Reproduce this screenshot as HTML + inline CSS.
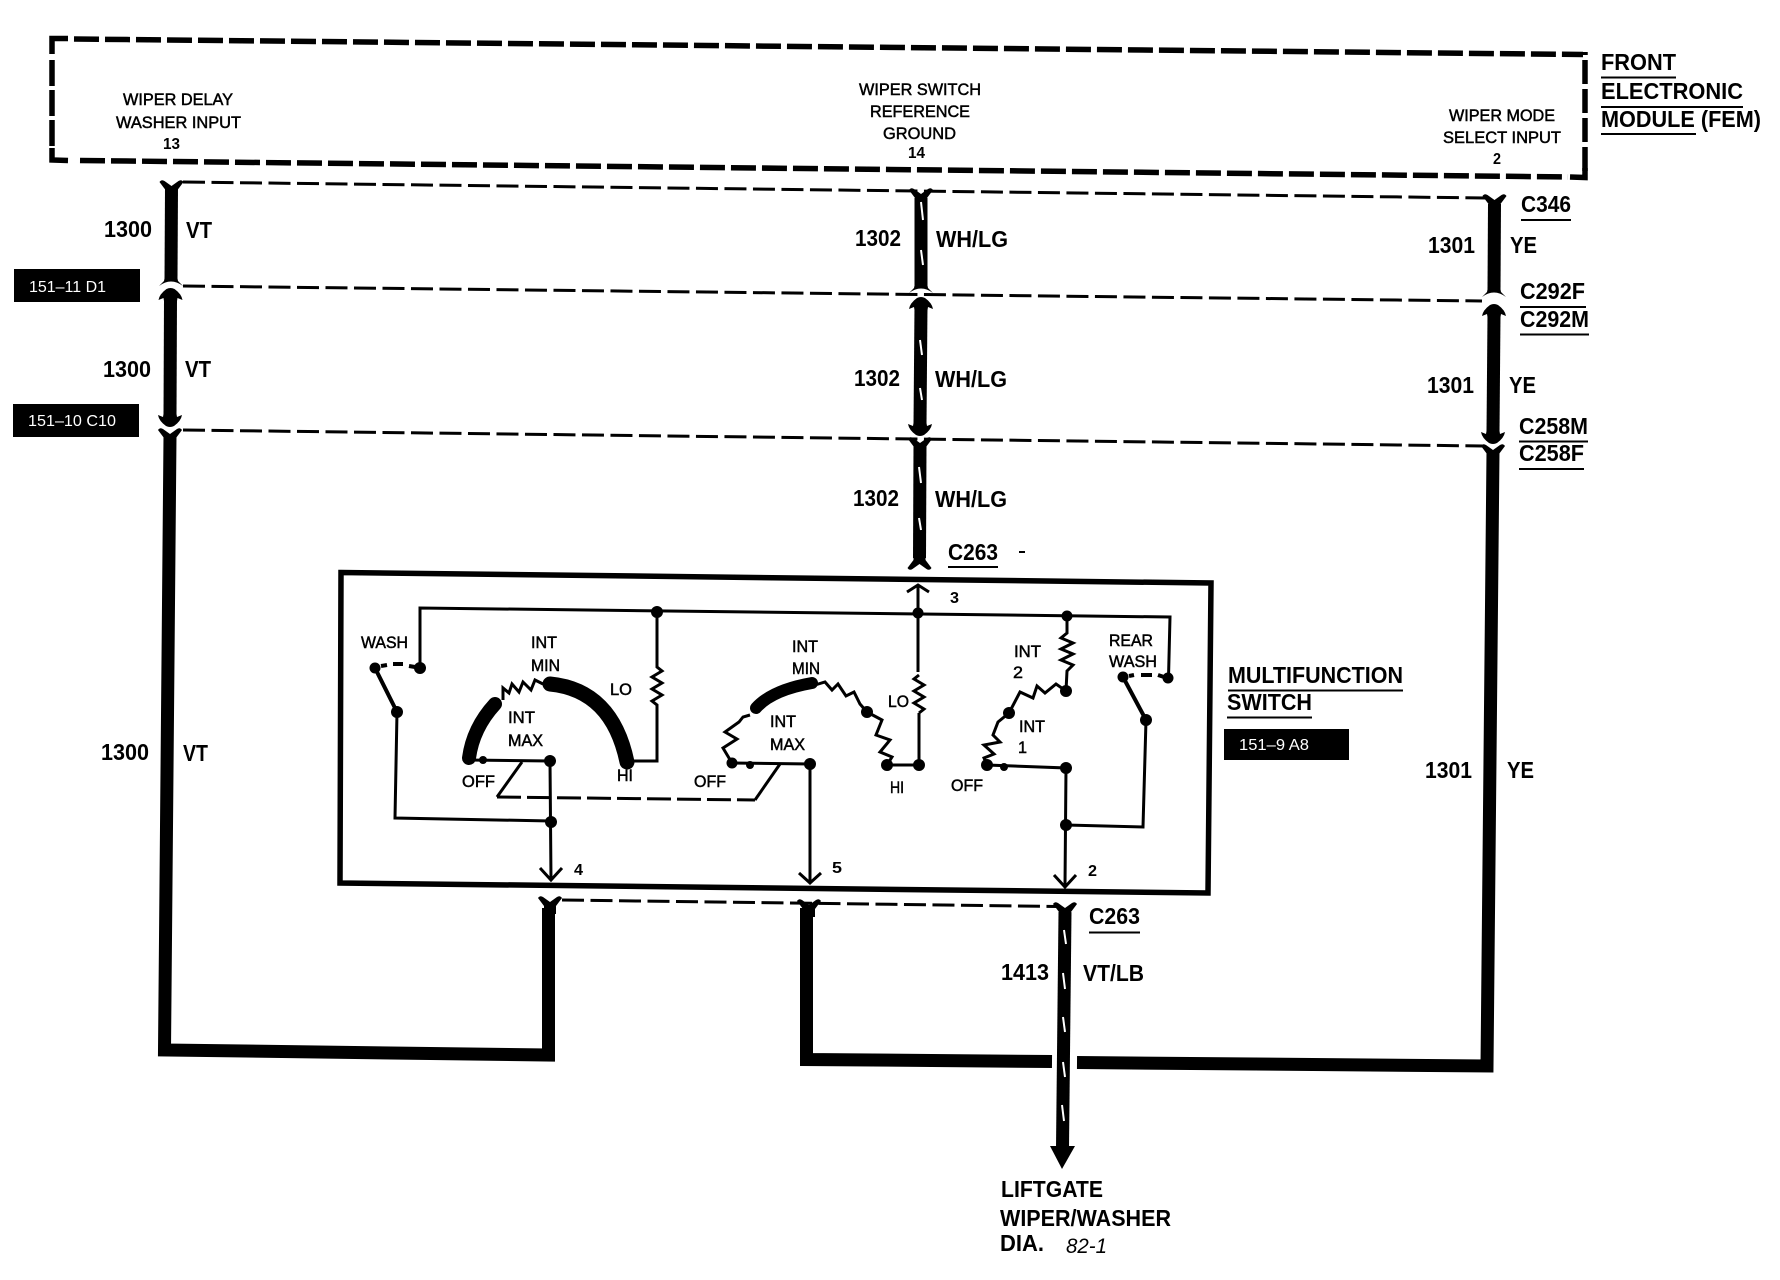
<!DOCTYPE html>
<html><head><meta charset="utf-8"><style>
html,body{margin:0;padding:0;background:#fff}
svg{display:block}
text{font-family:"Liberation Sans",sans-serif;fill:#000;stroke:#000;stroke-width:.5}
.a{font-size:17px}
.b{font-size:23px;font-weight:bold;stroke:none}
.w{font-size:16px;fill:#fff;stroke:none}
.n{font-size:16px;font-weight:bold;stroke:none}
</style></head><body>
<svg width="1780" height="1280" viewBox="0 0 1780 1280" xmlns="http://www.w3.org/2000/svg">
<defs>
<path id="ft" d="M-12,-2 Q-10,-5 -7,-3 L0,2 L7,-3 Q10,-5 12,-2 L6,6 L6,14 L-6,14 L-6,6 Z"/>
<path id="fb" d="M-12,2 Q-10,5 -7,3 L0,-2 L7,3 Q10,5 12,2 L6,-6 L6,-14 L-6,-14 L-6,-6 Z"/>
<path id="ab" d="M-6,-12 L6,-12 L7,-7 L12,-2 Q0,-11 -12,-2 L-7,-7 Z"/>
<path id="at" d="M-12,12 Q-11,6 -4,1 Q0,-1 4,1 Q11,6 12,12 L7,10 L6,16 L-6,16 L-7,10 Z"/>
<path id="ad" d="M-12,-12 Q-11,-6 -4,-1 Q0,1 4,-1 Q11,-6 12,-12 L7,-10 L6,-16 L-6,-16 L-7,-10 Z"/>
</defs>
<rect width="1780" height="1280" fill="#fff"/>

<!-- FEM dashed box -->
<g fill="none" stroke="#000" stroke-width="5.5">
<path d="M52,54 L52,38.5 L68,38.5" />
<path d="M74,39 L1583,54.5" stroke-dasharray="25 6"/>
<path d="M1585,52 L1585,172" stroke-dasharray="24 5" stroke-dashoffset="-8"/>
<path d="M52,56 L52,148" stroke-dasharray="26 4" stroke-dashoffset="-4"/>
<path d="M52,148 L52,160 L68,160.5"/>
<path d="M80,160.5 L1568,177" stroke-dasharray="25 6"/>
<path d="M1570,177 L1585,177.5 L1585,168"/>
</g>

<!-- dashed connector bars -->
<g fill="none" stroke="#000" stroke-width="3" stroke-dasharray="22 6.5">
<path d="M183,182 L1486,198"/>
<path d="M183,286 L1482,301"/>
<path d="M183,430 L1483,446"/>
<path d="M562,900 L1058,906.5"/>
</g>

<!-- thick wires -->
<g fill="none" stroke="#000" stroke-width="13" stroke-linejoin="miter">
<path d="M171.5,188 L171,280"/>
<path d="M170.5,300 L170,416"/>
<path d="M170,436 L164.5,1050 L548.5,1055 L548.5,908"/>
<path d="M1494.5,204 L1494,290"/>
<path d="M1494,315 L1493,432"/>
<path d="M1493,452 L1487,1066 L1077,1062.5"/>
<path d="M1052,1061.5 L806.5,1059.5 L806.5,908"/>
<path d="M921,198 L921,285"/>
<path d="M921,305 L920,425"/>
<path d="M920,446 L919.5,558"/>
<path d="M1065,912 L1062.5,1148"/>
</g>
<!-- connector ends -->
<use href="#ft" x="171.5" y="184"/><use href="#ab" x="171" y="288"/><use href="#at" x="170.5" y="288"/><use href="#ad" x="170" y="427"/><use href="#ft" x="170" y="432"/>
<use href="#ft" x="921" y="192"/><use href="#ab" x="921" y="295"/><use href="#at" x="921" y="297"/><use href="#ad" x="920" y="436"/><use href="#ft" x="920" y="441"/><use href="#fb" x="919.5" y="566"/>
<use href="#ft" x="1494.5" y="198"/><use href="#ab" x="1494" y="299"/><use href="#at" x="1494" y="304"/><use href="#ad" x="1493" y="444"/><use href="#ft" x="1493" y="448"/>
<use href="#ft" x="550" y="900"/><use href="#ft" x="809" y="903"/><use href="#ft" x="1065" y="906"/>
<polygon points="1050,1146 1075,1146 1062,1169"/>

<!-- tracer stripes -->
<g stroke="#fff" stroke-width="2" fill="none">
<path d="M921,202 L923,220"/><path d="M921,250 L923,265"/><path d="M920,340 L922,355"/><path d="M920,388 L922,400"/><path d="M919,467 L921,483"/><path d="M919,518 L921,530"/>
<path d="M1064,930 L1066,944"/><path d="M1063,973 L1065,989"/><path d="M1063,1017 L1065,1032"/><path d="M1063,1062 L1065,1077"/><path d="M1062,1105 L1064,1121"/>
</g>

<!-- Multifunction switch box -->
<path d="M341,572.5 L1211,583 L1208,893 L340,883 Z" fill="none" stroke="#000" stroke-width="5.5"/>

<!-- switch internals -->
<g fill="none" stroke="#000" stroke-width="3">
<path d="M420,668 L420,608 L1170,617 L1168.5,678"/>
<path d="M397,712 L395,818 L551,821"/>
<path d="M468,760 L550,761 L551,880"/>
<path d="M540,868 L551,880 L562,868"/>
<path d="M522,762 L497,797"/>
<path d="M497,797 L755,800" stroke-dasharray="24 6"/>
<path d="M755,800 L780,764"/>
<path d="M732,763 L810,764 L810,883"/>
<path d="M799,873 L810,883 L821,873"/>
<path d="M887,765 L919,765 L919,713"/>
<path d="M919,713 l5,-4 l-10,-6 l10,-6 l-10,-6 l10,-6 l-10,-6 l5,-4"/>
<path d="M918,672 L918,585"/>
<path d="M907,592 L918,585 L929,592"/>
<path d="M657,612 L657,667 l5,4 l-10,6 l10,6 l-10,6 l10,6 l-10,6 l5,4 L657,761 L633,761"/>
<path d="M503,700 L503,688 L509,693 L512,684 L519,692 L523,682 L531,690 L535,680 L543,684"/>
<path d="M732,763 L723,748 L737,739 L725,732 L739,722 L743,717 L750,715"/>
<path d="M815,685 L825,682 L832,690 L838,684 L846,696 L854,692 L860,704 L867,712 L882,720 L876,735 L890,740 L880,752 L892,757 L887,765"/>
<path d="M1067,616 L1067,633 l-6,5 l12,5 l-12,6 l12,5 l-12,6 l12,5 l-6,6 L1066,691 L1056,684 L1045,693 L1037,686 L1033,698 L1020,692 L1009,713 L998,722 L993,735 L1000,742 L984,745 L994,754 L984,758 L987,765 L1066,768 L1065,885"/>
<path d="M1054,875 L1065,887 L1076,875"/>
<path d="M1066,825 L1143,827 L1146,720"/>
</g>
<g fill="none" stroke="#000" stroke-width="4">
<path d="M375,668 L397,712"/><path d="M1123,677 L1146,720"/>
<path d="M381,666 L387,665 M393,664 L403,664 M409,666 L415,667"/>
<path d="M1129,676 L1134,675 M1141,675 L1152,675 M1158,675 L1164,677"/>
</g>
<g fill="none" stroke="#000" stroke-linecap="round">
<path d="M469,758 Q473,728 495,704" stroke-width="14"/>
<path d="M550,684 Q612,690 627,762" stroke-width="15"/>
<path d="M756,708 Q772,690 812,683" stroke-width="12"/>
</g>
<g fill="#000">
<circle cx="420" cy="668" r="6"/><circle cx="375" cy="668" r="5.5"/><circle cx="397" cy="712" r="6"/>
<circle cx="550" cy="761" r="6"/><circle cx="551" cy="822" r="6"/><circle cx="657" cy="612" r="6"/><circle cx="483" cy="760" r="4"/>
<circle cx="732" cy="763" r="5.5"/><circle cx="750" cy="765" r="4"/><circle cx="810" cy="764" r="6"/><circle cx="867" cy="712" r="6"/><circle cx="887" cy="765" r="6"/><circle cx="919" cy="765" r="6"/><circle cx="918" cy="613" r="5.5"/>
<circle cx="1067" cy="616" r="5.5"/><circle cx="1066" cy="691" r="6"/><circle cx="1009" cy="713" r="6"/><circle cx="987" cy="765" r="6"/><circle cx="1004" cy="767" r="4"/><circle cx="1066" cy="768" r="6"/><circle cx="1066" cy="825" r="6"/><circle cx="1146" cy="720" r="6"/><circle cx="1123" cy="677" r="5.5"/><circle cx="1168" cy="678" r="5.5"/>
</g>

<!-- black tags -->
<rect x="14" y="269" width="126" height="33"/>
<rect x="13" y="404" width="126" height="33"/>
<rect x="1224" y="729" width="125" height="31"/>
<text class="w" x="29" y="292" textLength="77" lengthAdjust="spacingAndGlyphs">151–11 D1</text>
<text class="w" x="28" y="426" textLength="88" lengthAdjust="spacingAndGlyphs">151–10 C10</text>
<text class="w" x="1239" y="750" textLength="70" lengthAdjust="spacingAndGlyphs">151–9 A8</text>

<!-- FEM text -->
<g class="f">
<text class="a" x="123" y="105" textLength="110" lengthAdjust="spacingAndGlyphs">WIPER DELAY</text>
<text class="a" x="116" y="128" textLength="125" lengthAdjust="spacingAndGlyphs">WASHER INPUT</text>
<text class="n" x="163" y="149" textLength="17" lengthAdjust="spacingAndGlyphs">13</text>
<text class="a" x="859" y="95" textLength="122" lengthAdjust="spacingAndGlyphs">WIPER SWITCH</text>
<text class="a" x="870" y="117" textLength="100" lengthAdjust="spacingAndGlyphs">REFERENCE</text>
<text class="a" x="883" y="139" textLength="73" lengthAdjust="spacingAndGlyphs">GROUND</text>
<text class="n" x="908" y="158" textLength="17" lengthAdjust="spacingAndGlyphs">14</text>
<text class="a" x="1449" y="121" textLength="106" lengthAdjust="spacingAndGlyphs">WIPER MODE</text>
<text class="a" x="1443" y="143" textLength="118" lengthAdjust="spacingAndGlyphs">SELECT INPUT</text>
<text class="n" x="1493" y="164" textLength="8" lengthAdjust="spacingAndGlyphs">2</text>
</g>

<text class="b" x="1601" y="70" textLength="75" lengthAdjust="spacingAndGlyphs">FRONT</text>
<text class="b" x="1601" y="99" textLength="142" lengthAdjust="spacingAndGlyphs">ELECTRONIC</text>
<text class="b" x="1601" y="127" textLength="160" lengthAdjust="spacingAndGlyphs">MODULE (FEM)</text>
<text class="b" x="104" y="237" textLength="48" lengthAdjust="spacingAndGlyphs">1300</text>
<text class="b" x="186" y="238" textLength="26" lengthAdjust="spacingAndGlyphs">VT</text>
<text class="b" x="103" y="377" textLength="48" lengthAdjust="spacingAndGlyphs">1300</text>
<text class="b" x="185" y="377" textLength="26" lengthAdjust="spacingAndGlyphs">VT</text>
<text class="b" x="101" y="760" textLength="48" lengthAdjust="spacingAndGlyphs">1300</text>
<text class="b" x="183" y="761" textLength="25" lengthAdjust="spacingAndGlyphs">VT</text>
<text class="b" x="855" y="246" textLength="46" lengthAdjust="spacingAndGlyphs">1302</text>
<text class="b" x="936" y="247" textLength="72" lengthAdjust="spacingAndGlyphs">WH/LG</text>
<text class="b" x="854" y="386" textLength="46" lengthAdjust="spacingAndGlyphs">1302</text>
<text class="b" x="935" y="387" textLength="72" lengthAdjust="spacingAndGlyphs">WH/LG</text>
<text class="b" x="853" y="506" textLength="46" lengthAdjust="spacingAndGlyphs">1302</text>
<text class="b" x="935" y="507" textLength="72" lengthAdjust="spacingAndGlyphs">WH/LG</text>
<text class="b" x="1428" y="253" textLength="47" lengthAdjust="spacingAndGlyphs">1301</text>
<text class="b" x="1510" y="253" textLength="27" lengthAdjust="spacingAndGlyphs">YE</text>
<text class="b" x="1427" y="393" textLength="47" lengthAdjust="spacingAndGlyphs">1301</text>
<text class="b" x="1509" y="393" textLength="27" lengthAdjust="spacingAndGlyphs">YE</text>
<text class="b" x="1425" y="778" textLength="47" lengthAdjust="spacingAndGlyphs">1301</text>
<text class="b" x="1507" y="778" textLength="27" lengthAdjust="spacingAndGlyphs">YE</text>
<text class="b" x="1521" y="212" textLength="50" lengthAdjust="spacingAndGlyphs">C346</text>
<text class="b" x="1520" y="299" textLength="65" lengthAdjust="spacingAndGlyphs">C292F</text>
<text class="b" x="1520" y="327" textLength="69" lengthAdjust="spacingAndGlyphs">C292M</text>
<text class="b" x="1519" y="434" textLength="69" lengthAdjust="spacingAndGlyphs">C258M</text>
<text class="b" x="1519" y="461" textLength="65" lengthAdjust="spacingAndGlyphs">C258F</text>
<text class="b" x="948" y="560" textLength="50" lengthAdjust="spacingAndGlyphs">C263</text>
<text class="b" x="1089" y="924" textLength="51" lengthAdjust="spacingAndGlyphs">C263</text>
<text class="b" x="1001" y="980" textLength="48" lengthAdjust="spacingAndGlyphs">1413</text>
<text class="b" x="1083" y="981" textLength="61" lengthAdjust="spacingAndGlyphs">VT/LB</text>
<text class="b" x="1228" y="683" textLength="175" lengthAdjust="spacingAndGlyphs">MULTIFUNCTION</text>
<text class="b" x="1227" y="710" textLength="85" lengthAdjust="spacingAndGlyphs">SWITCH</text>
<text class="b" x="1001" y="1197" textLength="102" lengthAdjust="spacingAndGlyphs">LIFTGATE</text>
<text class="b" x="1000" y="1226" textLength="171" lengthAdjust="spacingAndGlyphs">WIPER/WASHER</text>
<text class="b" x="1000" y="1251" textLength="44" lengthAdjust="spacingAndGlyphs">DIA.</text>
<text x="1066" y="1253" font-size="21" font-style="italic" textLength="41" lengthAdjust="spacingAndGlyphs" style="stroke:none">82-1</text>

<!-- underlines -->
<g stroke="#000" stroke-width="2" fill="none">
<path d="M1601,77.5 H1676 M1601,107 H1743 M1601,134 H1696"/>
<path d="M1521,220 H1571 M1520,307 H1586 M1520,334.5 H1589 M1519,441.5 H1588 M1519,469 H1584"/>
<path d="M948,567 H998 M1089,932.5 H1140 M1228,690.5 H1403 M1227,717.5 H1312"/>
<path d="M1019,552 H1025"/>
</g>

<!-- switch labels -->
<text class="a" x="361" y="648" textLength="47" lengthAdjust="spacingAndGlyphs">WASH</text>
<text class="a" x="531" y="648" textLength="26" lengthAdjust="spacingAndGlyphs">INT</text>
<text class="a" x="531" y="671" textLength="29" lengthAdjust="spacingAndGlyphs">MIN</text>
<text class="a" x="610" y="695" textLength="22" lengthAdjust="spacingAndGlyphs">LO</text>
<text class="a" x="508" y="723" textLength="27" lengthAdjust="spacingAndGlyphs">INT</text>
<text class="a" x="508" y="746" textLength="35" lengthAdjust="spacingAndGlyphs">MAX</text>
<text class="a" x="462" y="787" textLength="33" lengthAdjust="spacingAndGlyphs">OFF</text>
<text class="a" x="617" y="781" textLength="16" lengthAdjust="spacingAndGlyphs">HI</text>
<text class="a" x="792" y="652" textLength="26" lengthAdjust="spacingAndGlyphs">INT</text>
<text class="a" x="792" y="674" textLength="28" lengthAdjust="spacingAndGlyphs">MIN</text>
<text class="a" x="770" y="727" textLength="26" lengthAdjust="spacingAndGlyphs">INT</text>
<text class="a" x="770" y="750" textLength="35" lengthAdjust="spacingAndGlyphs">MAX</text>
<text class="a" x="694" y="787" textLength="32" lengthAdjust="spacingAndGlyphs">OFF</text>
<text class="a" x="888" y="707" textLength="21" lengthAdjust="spacingAndGlyphs">LO</text>
<text class="a" x="890" y="793" textLength="14" lengthAdjust="spacingAndGlyphs">HI</text>
<text class="a" x="951" y="791" textLength="32" lengthAdjust="spacingAndGlyphs">OFF</text>
<text class="a" x="1014" y="657" textLength="27" lengthAdjust="spacingAndGlyphs">INT</text>
<text class="a" x="1013" y="678" textLength="10" lengthAdjust="spacingAndGlyphs">2</text>
<text class="a" x="1019" y="732" textLength="26" lengthAdjust="spacingAndGlyphs">INT</text>
<text class="a" x="1018" y="753" textLength="9" lengthAdjust="spacingAndGlyphs">1</text>
<text class="a" x="1109" y="646" textLength="44" lengthAdjust="spacingAndGlyphs">REAR</text>
<text class="a" x="1109" y="667" textLength="48" lengthAdjust="spacingAndGlyphs">WASH</text>
<text class="n" x="574" y="875" textLength="9" lengthAdjust="spacingAndGlyphs">4</text>
<text class="n" x="832" y="873" textLength="10" lengthAdjust="spacingAndGlyphs">5</text>
<text class="n" x="1088" y="876" textLength="9" lengthAdjust="spacingAndGlyphs">2</text>
<text class="n" x="950" y="603" textLength="9" lengthAdjust="spacingAndGlyphs">3</text>
</svg>
</body></html>
